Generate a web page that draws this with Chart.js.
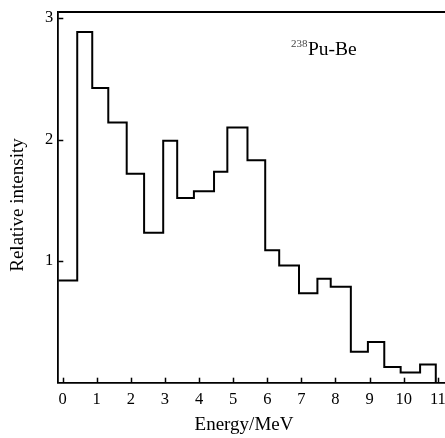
<!DOCTYPE html>
<html>
<head>
<meta charset="utf-8">
<script src="https://cdn.jsdelivr.net/npm/chart.js@4.4.1/dist/chart.umd.min.js"></script>
<style>
  html, body { margin: 0; padding: 0; background: #ffffff; }
  #wrap { width: 445px; height: 438px; position: relative; }
</style>
</head>
<body>
<div id="wrap"><canvas id="c" width="445" height="438"></canvas></div>
<script>
// ---- data ----
const binEdges = [-0.125, 0.43, 0.87, 1.34, 1.88, 2.39, 2.95, 3.36, 3.85, 4.44, 4.83, 5.42, 5.94, 6.35, 6.93, 7.47, 7.86, 8.45, 8.95, 9.43, 9.91, 10.48, 10.94];
const intensities = [0.84, 2.885, 2.425, 2.14, 1.72, 1.233, 1.99, 1.52, 1.575, 1.735, 2.10, 1.83, 1.09, 0.965, 0.735, 0.855, 0.79, 0.255, 0.335, 0.13, 0.083, 0.15];
const xTickValues = [0, 1, 2, 3, 4, 5, 6, 7, 8, 9, 10, 11];
const yTickValues = [1, 2, 3];
const xTitle = 'Energy/MeV';
const yTitle = 'Relative intensity';
const sourceMass = '238';
const sourceName = 'Pu-Be';

// build stepped points: each bin value holds from its left edge to the next edge; last edge drops to 0
const points = intensities.map((v, i) => ({ x: binEdges[i], y: v }));
points.push({ x: binEdges[binEdges.length - 1], y: intensities[intensities.length - 1] });
points.push({ x: binEdges[binEdges.length - 1], y: 0 });

const FONT = '"Liberation Serif", "Times New Roman", serif';

const decor = {
  id: 'decor',
  afterDraw(chart) {
    const { ctx, chartArea: a, scales } = chart;
    const xs = scales.x, ys = scales.y;
    ctx.save();
    ctx.strokeStyle = '#000';
    ctx.lineWidth = 1.8;
    // top frame line
    ctx.beginPath();
    ctx.moveTo(a.left, a.top);
    ctx.lineTo(a.right, a.top);
    ctx.stroke();
    // inward tick marks
    ctx.lineWidth = 1.5;
    xTickValues.forEach(v => {
      const px = Math.round(xs.getPixelForValue(v)) + 0.5;
      if (px <= a.left + 1) return;
      ctx.beginPath();
      ctx.moveTo(px, a.bottom);
      ctx.lineTo(px, a.bottom - 5);
      ctx.stroke();
    });
    yTickValues.forEach(v => {
      const py = Math.round(ys.getPixelForValue(v)) + 0.5;
      ctx.beginPath();
      ctx.moveTo(a.left, py);
      ctx.lineTo(a.left + 5, py);
      ctx.stroke();
    });
    // axis titles
    ctx.fillStyle = '#000';
    ctx.font = '19px ' + FONT;
    ctx.textAlign = 'center';
    ctx.textBaseline = 'middle';
    ctx.fillText(xTitle, 244, 425);
    ctx.save();
    ctx.translate(18, 205);
    ctx.rotate(-Math.PI / 2);
    ctx.fillText(yTitle, 0, 0);
    ctx.restore();
    // source label
    ctx.textAlign = 'left';
    ctx.textBaseline = 'alphabetic';
    ctx.fillStyle = '#444';
    ctx.font = '11px ' + FONT;
    ctx.fillText(sourceMass, 291, 47);
    ctx.fillStyle = '#000';
    ctx.font = '19.5px ' + FONT;
    ctx.fillText(sourceName, 308, 55);
    ctx.restore();
  }
};

new Chart(document.getElementById('c'), {
  type: 'line',
  data: {
    datasets: [{
      data: points,
      stepped: 'before',
      borderColor: '#000',
      borderWidth: 2,
      pointRadius: 0,
      fill: false,
      tension: 0
    }]
  },
  options: {
    responsive: false,
    animation: false,
    devicePixelRatio: 1,
    layout: { padding: { top: 12, right: 0, left: 0, bottom: 0 } },
    plugins: { legend: { display: false }, tooltip: { enabled: false }, title: { display: false } },
    scales: {
      x: {
        type: 'linear',
        min: -0.125,
        max: 11.21,
        afterBuildTicks: s => { s.ticks = xTickValues.map(v => ({ value: v })); },
        afterFit: s => { s.height = 438 - 382.7; s.paddingLeft = 0; s.paddingRight = 0; },
        grid: { display: false, drawTicks: false },
        border: { display: true, color: '#000', width: 1.8 },
        ticks: { color: '#000', font: { family: FONT, size: 16.5 }, padding: 7, maxRotation: 0, autoSkip: false }
      },
      y: {
        type: 'linear',
        min: 0,
        max: 3.05,
        afterBuildTicks: s => { s.ticks = yTickValues.map(v => ({ value: v })); },
        afterFit: s => { s.width = 58.3; s.paddingTop = 0; s.paddingBottom = 0; },
        grid: { display: false, drawTicks: false },
        border: { display: true, color: '#000', width: 1.8 },
        ticks: { color: '#000', font: { family: FONT, size: 16.5 }, padding: 5 }
      }
    }
  },
  plugins: [decor]
});
</script>
</body>
</html>
